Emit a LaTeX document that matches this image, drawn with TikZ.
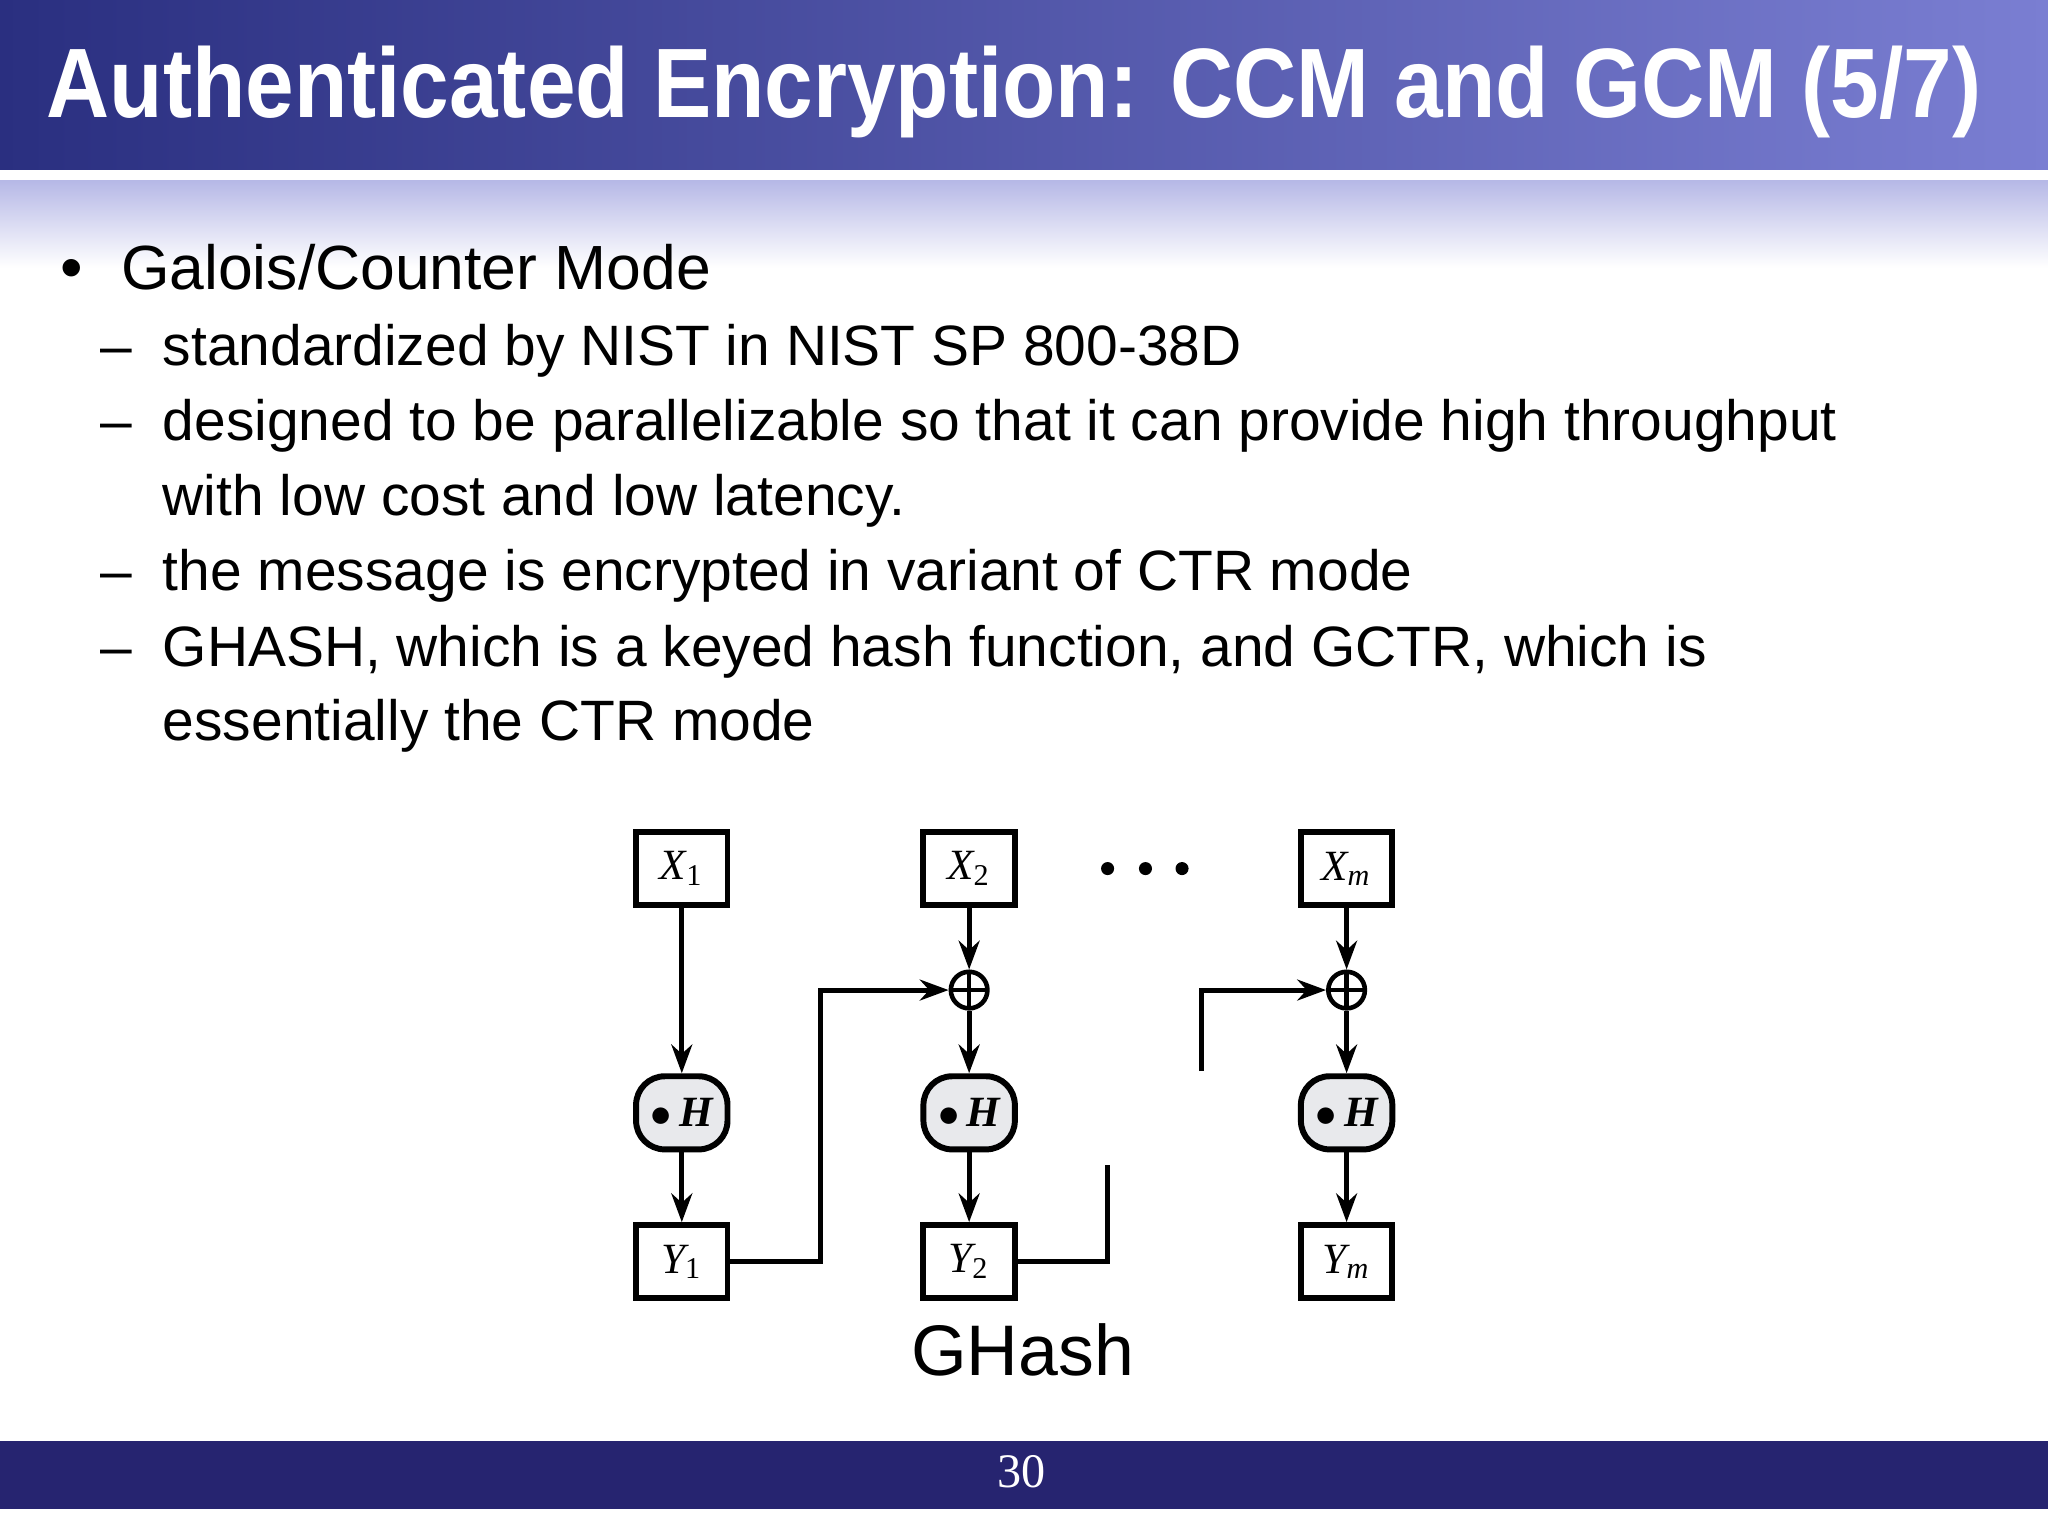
\documentclass[tikz,border=0pt]{standalone}
\usepackage{fontspec}
\setmainfont{Liberation Sans}
\newfontfamily\tms{Liberation Serif}
\usetikzlibrary{arrows.meta}
\definecolor{navyA}{HTML}{2A2F80}
\definecolor{navyB}{HTML}{7A7ED2}
\definecolor{barC}{HTML}{262470}
\definecolor{hfill}{HTML}{E8E9EC}
\begin{document}
\begin{tikzpicture}[x=0.1mm,y=-0.1mm,
  box/.style={draw,line width=1.3pt,minimum width=7mm,minimum height=5.6mm,inner sep=0pt,font=\tms\fontsize{9.4}{10}\selectfont\itshape},
  hb/.style={draw,line width=1.3pt,fill=hfill,rounded corners=2.2mm,minimum width=7mm,minimum height=5.6mm,inner sep=0pt,font=\tms\fontsize{9.4}{10}\selectfont\bfseries\itshape},
  xo/.style={draw,line width=1pt,circle,minimum size=2.8mm,inner sep=0pt,path picture={\draw[line width=1pt] (path picture bounding box.north)--(path picture bounding box.south) (path picture bounding box.west)--(path picture bounding box.east);}},
  ln/.style={line width=1.1pt},
  ar/.style={ln,-{Stealth[length=2.2mm,width=1.6mm]}},
  item/.style={anchor=base west,inner sep=0pt,font=\fontsize{12.4}{14}\selectfont}]
\useasboundingbox (0,0) rectangle (1568,1176);
\fill[white] (0,0) rectangle (1568,1176);
\shade[left color=navyA,right color=navyB] (0,0) rectangle (1568,130);
\shade[top color=navyB!55,bottom color=white] (0,138) rectangle (1568,205);
\node[anchor=base west,inner sep=0pt,text=white,font=\bfseries\fontsize{21.5}{24}\selectfont] (title) at (35,90) {\scalebox{0.885}[1]{Authenticated Encryption: CCM and GCM (5/7)}};
\node[anchor=base,inner sep=0pt,font=\fontsize{14}{16}\selectfont] (bul) at (55,222) {•};
\node[anchor=base west,inner sep=0pt,font=\fontsize{13.6}{16}\selectfont] (head) at (92,222) {Galois/Counter Mode};
\foreach \y in {280,337,452,510}{\node[anchor=base west,inner sep=0pt,font=\fontsize{12.4}{14}\selectfont] at (76,\y) {–};}
\node[item] (t1) at (124,280) {standardized by NIST in NIST SP 800-38D};
\node[item] (t2) at (124,337) {designed to be parallelizable so that it can provide high throughput};
\node[item] (t3) at (124,395) {with low cost and low latency.};
\node[item] (t4) at (124,452) {the message is encrypted in variant of CTR mode};
\node[item] (t5) at (124,510) {GHASH, which is a keyed hash function, and GCTR, which is};
\node[item] (t6) at (124,567) {essentially the CTR mode};
% diagram
\node[box] (x1) at (522,665) {X\textsubscript{\upshape 1}};
\node[box] (x2) at (742,665) {X\textsubscript{\upshape 2}};
\node[box] (xm) at (1031,665) {X\textsubscript{m}};
\node[xo] (o2) at (742,758) {};
\node[xo] (om) at (1031,758) {};
\node[hb] (h1) at (522,852) {$\bullet$\,H};
\node[hb] (h2) at (742,852) {$\bullet$\,H};
\node[hb] (hm) at (1031,852) {$\bullet$\,H};
\node[box] (y1) at (522,966) {Y\textsubscript{\upshape 1}};
\node[box] (y2) at (742,966) {Y\textsubscript{\upshape 2}};
\node[box] (ym) at (1031,966) {Y\textsubscript{m}};
\foreach \x in {848,877,905}{\fill (\x,665) circle (5);}
\draw[ar] (x1) -- (h1);
\draw[ar] (h1) -- (y1);
\draw[ar] (x2) -- (o2);
\draw[ar] (o2) -- (h2);
\draw[ar] (h2) -- (y2);
\draw[ar] (xm) -- (om);
\draw[ar] (om) -- (hm);
\draw[ar] (hm) -- (ym);
\coordinate (c1) at (628,758);
\coordinate (c2) at (848,892);
\coordinate (c3) at (920,820);
\draw[ar] (y1.east) -| (c1) -- (o2);
\draw[ln] (y2.east) -| (c2);
\draw[ar] (c3) |- (om);
\node[anchor=base,inner sep=0pt,font=\fontsize{15.6}{18}\selectfont] (gh) at (783,1053) {GHash};
\fill[barC] (0,1103) rectangle (1568,1155);
\node[text=white,font=\tms\fontsize{10.5}{12}\selectfont,inner sep=0pt] (pg) at (782,1127) {30};
\end{tikzpicture}
\end{document}
